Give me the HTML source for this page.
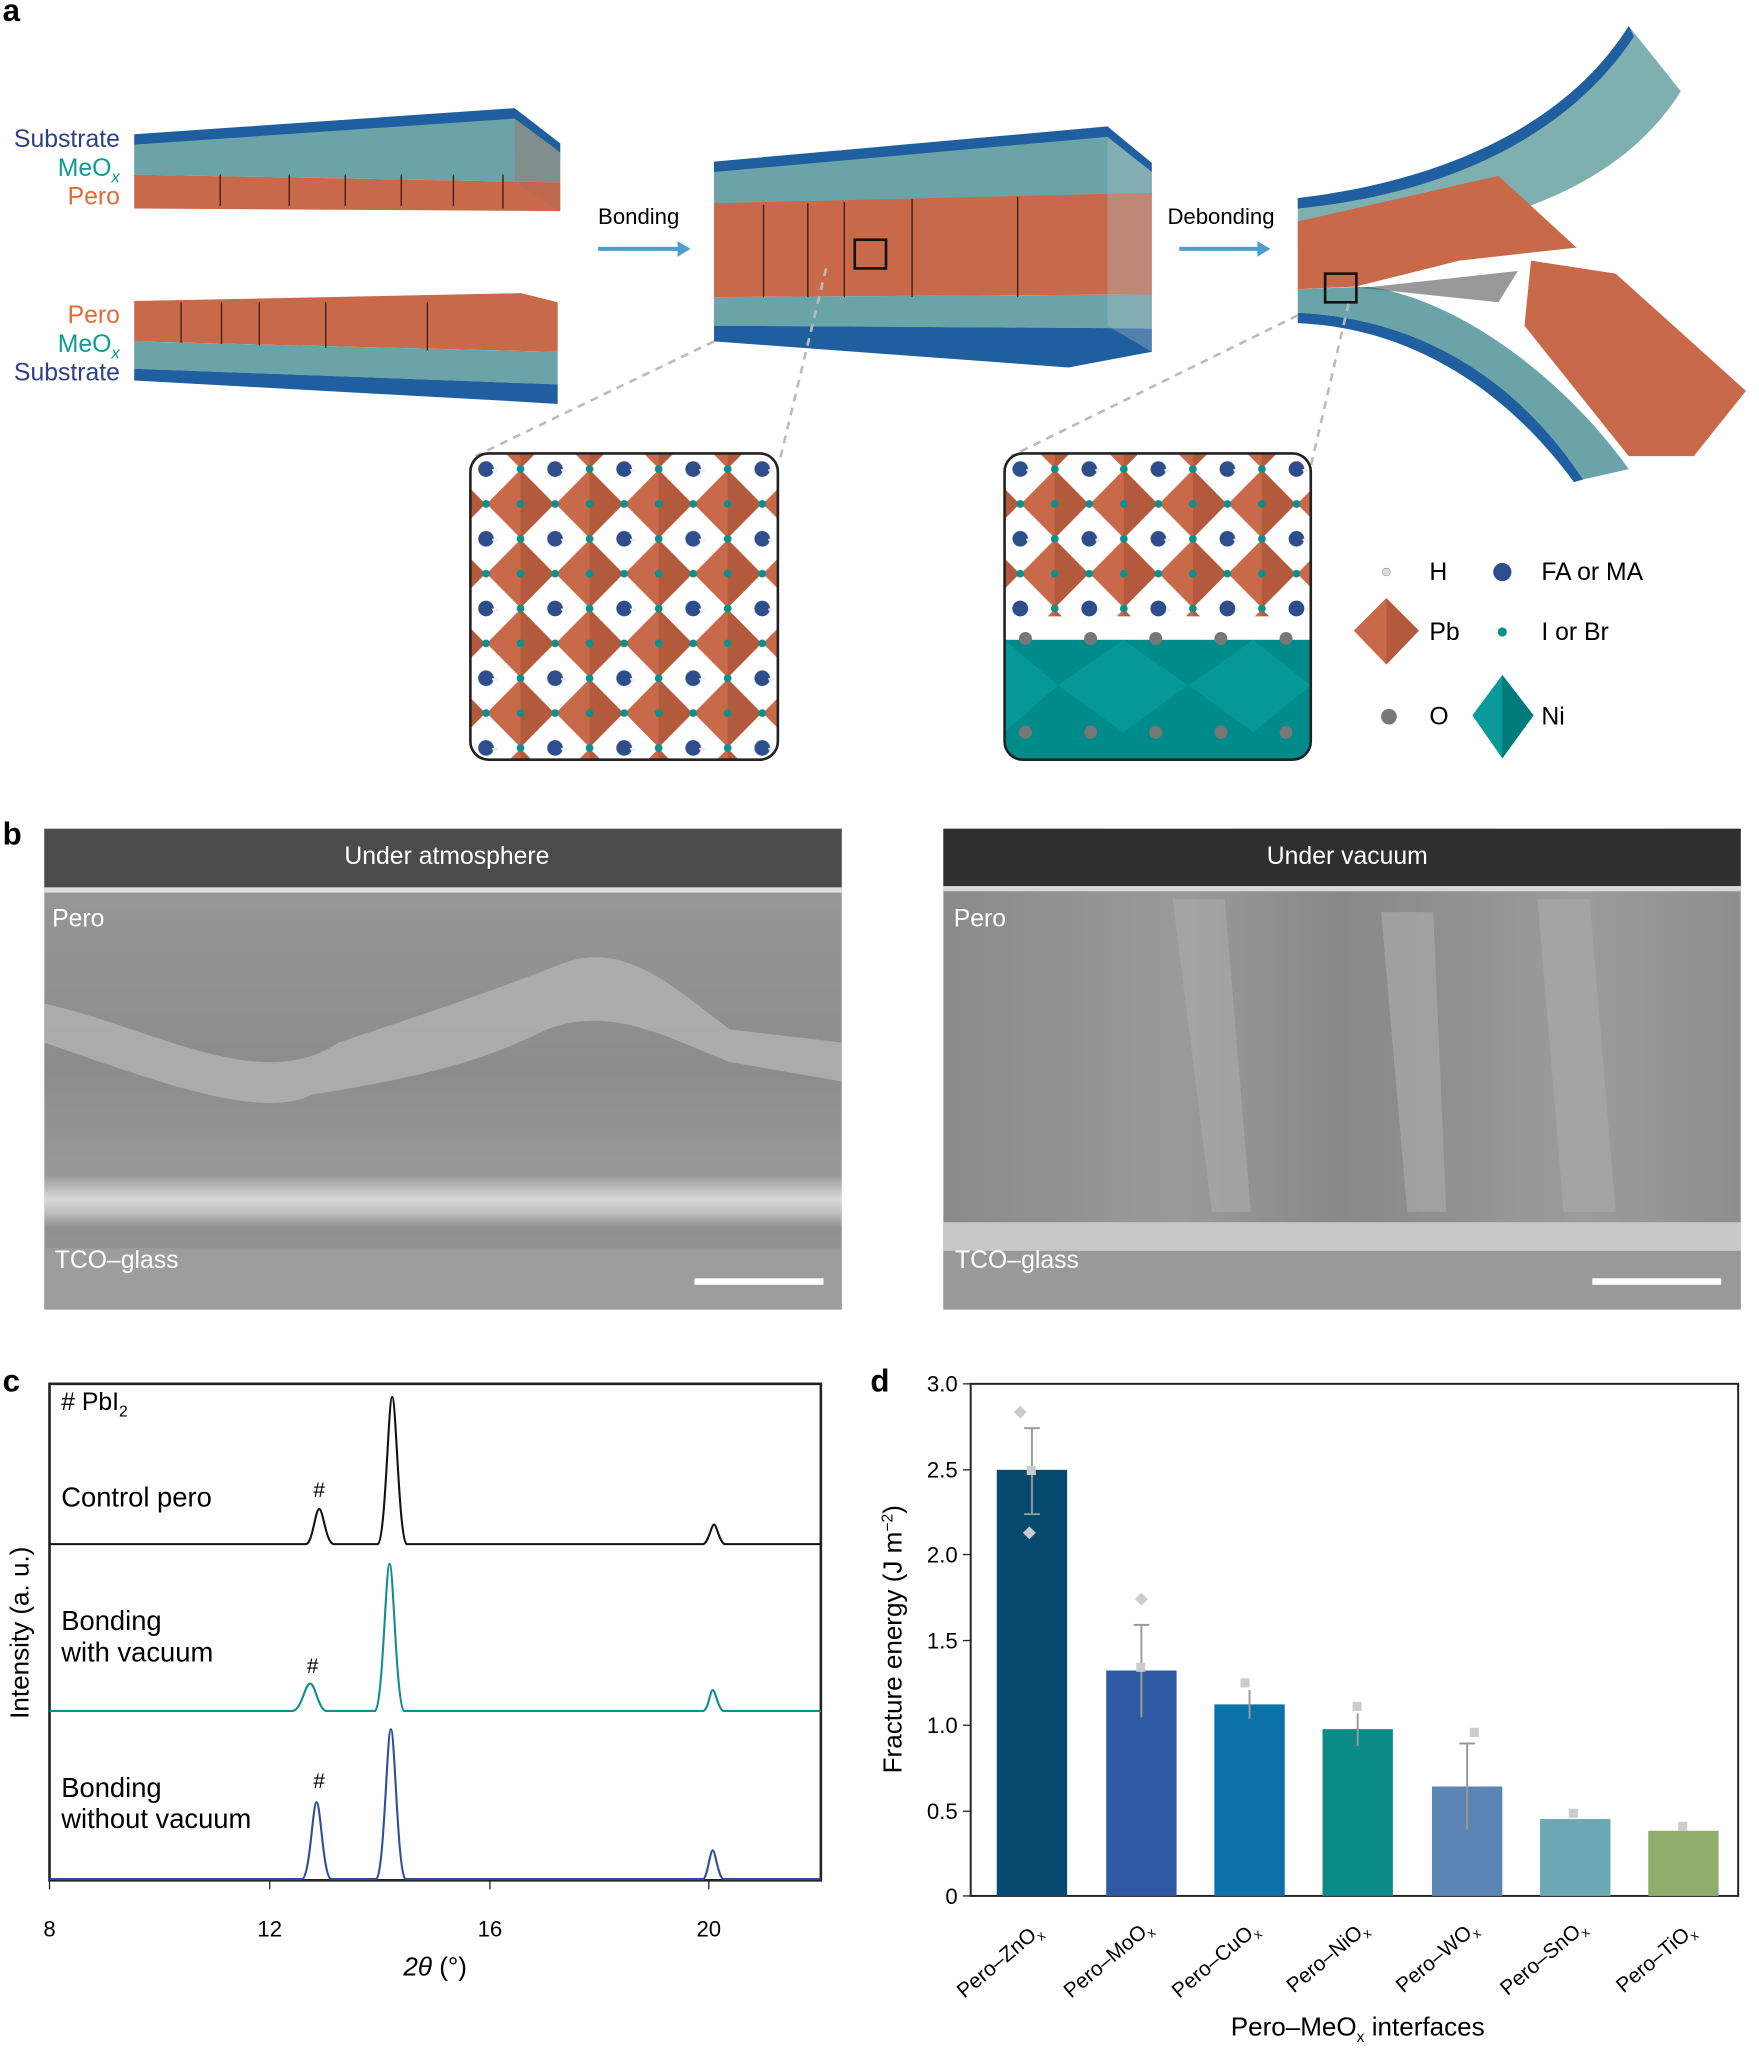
<!DOCTYPE html>
<html><head><meta charset="utf-8"><style>
html,body{margin:0;padding:0;background:#fff}
svg{display:block}
text{font-family:"Liberation Sans",sans-serif}
</style></head><body>
<svg width="1759" height="2051" viewBox="0 0 1350 1574" preserveAspectRatio="none" xmlns="http://www.w3.org/2000/svg">
<defs>
<pattern id="lat" x="373" y="360" width="53" height="53.5" patternUnits="userSpaceOnUse">
 <polygon points="26.5,0.5 52.5,26.75 26.5,53 0.5,26.75" fill="#c8694a"/>
 <polygon points="26.5,0.5 52.5,26.75 26.5,53" fill="#b35a3d"/>
 <circle cx="0" cy="0" r="6" fill="#2d4d8c"/><circle cx="53" cy="0" r="6" fill="#2d4d8c"/>
 <circle cx="0" cy="53.5" r="6" fill="#2d4d8c"/><circle cx="53" cy="53.5" r="6" fill="#2d4d8c"/>
 <circle cx="7" cy="0" r="2.5" fill="#eee"/>
 <circle cx="26.5" cy="0" r="3" fill="#0f8f8a"/><circle cx="26.5" cy="53.5" r="3" fill="#0f8f8a"/>
 <circle cx="0" cy="26.75" r="3" fill="#0f8f8a"/><circle cx="53" cy="26.75" r="3" fill="#0f8f8a"/>
 <circle cx="26.5" cy="26.75" r="3" fill="#0f8f8a"/>
</pattern>
<pattern id="lat2" x="783" y="360" width="53" height="53.5" patternUnits="userSpaceOnUse">
 <polygon points="26.5,0.5 52.5,26.75 26.5,53 0.5,26.75" fill="#c8694a"/>
 <polygon points="26.5,0.5 52.5,26.75 26.5,53" fill="#b35a3d"/>
 <circle cx="0" cy="0" r="6" fill="#2d4d8c"/><circle cx="53" cy="0" r="6" fill="#2d4d8c"/>
 <circle cx="0" cy="53.5" r="6" fill="#2d4d8c"/><circle cx="53" cy="53.5" r="6" fill="#2d4d8c"/>
 <circle cx="7" cy="0" r="2.5" fill="#eee"/>
 <circle cx="26.5" cy="0" r="3" fill="#0f8f8a"/><circle cx="26.5" cy="53.5" r="3" fill="#0f8f8a"/>
 <circle cx="0" cy="26.75" r="3" fill="#0f8f8a"/><circle cx="53" cy="26.75" r="3" fill="#0f8f8a"/>
 <circle cx="26.5" cy="26.75" r="3" fill="#0f8f8a"/>
</pattern>
<linearGradient id="semL" x1="0" y1="0" x2="0" y2="1">
 <stop offset="0" stop-color="#9a9a9a"/><stop offset="0.5" stop-color="#8c8c8c"/><stop offset="0.72" stop-color="#999"/><stop offset="0.77" stop-color="#d8d8d8"/><stop offset="0.8" stop-color="#bdbdbd"/><stop offset="0.83" stop-color="#8e8e8e"/><stop offset="1" stop-color="#a3a3a3"/>
</linearGradient>
<linearGradient id="semR" x1="0" y1="0" x2="1" y2="0">
 <stop offset="0" stop-color="#8a8a8a"/><stop offset="0.3" stop-color="#9a9a9a"/><stop offset="0.5" stop-color="#888"/><stop offset="0.8" stop-color="#9c9c9c"/><stop offset="1" stop-color="#8e8e8e"/>
</linearGradient>
</defs>

<text x="2" y="16" font-size="24" font-weight="bold">a</text>
<text x="2" y="648" font-size="24" font-weight="bold">b</text>
<text x="2" y="1068" font-size="24" font-weight="bold">c</text>
<text x="668" y="1068" font-size="24" font-weight="bold">d</text>

<!-- top-left slab -->
<polygon points="103,110 395,90 430,116 430,140 103,134" fill="#6aa4a8"/>
<polygon points="103,103 395,83 430,110 430,117 395,91 103,111" fill="#1f5fa0"/>
<polygon points="103,134 430,140 430,162 103,160" fill="#c8694a"/>
<polygon points="395,91 430,117 430,162 395,140" fill="#a86a58" opacity="0.35"/>
<text x="92" y="113" font-size="19" fill="#2e3f8c" text-anchor="end">Substrate</text>
<text x="92" y="135" font-size="19" fill="#0f9a92" text-anchor="end">MeO<tspan font-size="13" dy="5" font-style="italic">x</tspan></text>
<text x="92" y="157" font-size="19" fill="#e26b35" text-anchor="end">Pero</text>
<polygon points="103,231 400,225 428,232 428,270 103,262" fill="#c8694a"/>
<polygon points="103,262 428,270 428,295 103,283" fill="#6aa4a8"/>
<polygon points="103,283 428,295 428,310 395,308 103,292" fill="#1f5fa0"/>
<g stroke="#3a1a10" stroke-width="1"><line x1="139" y1="232" x2="139" y2="263"/><line x1="170" y1="232" x2="170" y2="264"/><line x1="199" y1="232" x2="199" y2="265"/><line x1="250" y1="232" x2="250" y2="267"/><line x1="328" y1="232" x2="328" y2="269"/>
<line x1="169" y1="134" x2="169" y2="158"/><line x1="222" y1="134" x2="222" y2="158"/><line x1="265" y1="134" x2="265" y2="158"/><line x1="308" y1="134" x2="308" y2="158"/><line x1="348" y1="134" x2="348" y2="158"/><line x1="386" y1="134" x2="386" y2="160"/></g>
<text x="92" y="248" font-size="19" fill="#e26b35" text-anchor="end">Pero</text>
<text x="92" y="270" font-size="19" fill="#0f9a92" text-anchor="end">MeO<tspan font-size="13" dy="5" font-style="italic">x</tspan></text>
<text x="92" y="292" font-size="19" fill="#2e3f8c" text-anchor="end">Substrate</text>

<text x="459" y="172" font-size="17">Bonding</text>
<line x1="459" y1="191" x2="522" y2="191" stroke="#4a9fd0" stroke-width="3"/><polygon points="530,191 520,185 520,197" fill="#4a9fd0"/>
<text x="896" y="172" font-size="17">Debonding</text>
<line x1="905" y1="191" x2="967" y2="191" stroke="#4a9fd0" stroke-width="3"/><polygon points="975,191 965,185 965,197" fill="#4a9fd0"/>

<!-- middle slab -->
<polygon points="548,131 850,104 884,131 884,150 548,158" fill="#6aa4a8"/>
<polygon points="548,124 850,97 884,125 884,132 850,105 548,132" fill="#1f5fa0"/>
<polygon points="548,156 884,148 884,226 548,228" fill="#c8694a"/>
<polygon points="548,228 884,226 884,252 548,250" fill="#6aa4a8"/>
<polygon points="548,250 884,252 884,270 820,282 548,262" fill="#1f5fa0"/>
<polygon points="850,105 884,132 884,270 850,250" fill="#b0c0c8" opacity="0.35"/>
<g stroke="#3a1a10" stroke-width="1"><line x1="586" y1="157" x2="586" y2="228"/><line x1="620" y1="156" x2="620" y2="228"/><line x1="700" y1="153" x2="700" y2="228"/><line x1="781" y1="151" x2="781" y2="228"/><line x1="648" y1="155" x2="648" y2="228"/></g>
<rect x="656" y="184" width="24" height="22" fill="none" stroke="#111" stroke-width="2"/>

<!-- debonded -->
<path d="M996,152 C1100,140 1200,100 1250,20 L1290,70 C1240,150 1140,175 1050,185 L996,190 Z" fill="#7fb0b0"/>
<path d="M996,152 C1100,140 1200,100 1250,20 L1254,28 C1200,110 1100,150 996,160Z" fill="#1f5fa0"/>
<path d="M996,170 L1150,135 L1210,190 L1120,200 L1040,220 L996,222 Z" fill="#c8694a"/>
<path d="M996,222 L1050,220 C1120,230 1200,290 1250,360 L1215,368 C1170,300 1100,245 996,240 Z" fill="#6aa4a8"/>
<path d="M996,240 C1100,245 1170,300 1215,368 L1208,370 C1160,305 1090,252 996,248Z" fill="#1f5fa0"/>
<path d="M1175,200 L1240,210 L1340,300 L1300,350 L1250,350 L1170,250 Z" fill="#c8694a"/>
<path d="M1045,221 L1165,208 L1150,232 Z" fill="#555" opacity="0.6"/>
<rect x="1017" y="210" width="24" height="22" fill="none" stroke="#111" stroke-width="2"/>

<g stroke="#bbb" stroke-width="2" stroke-dasharray="6,5" fill="none">
<line x1="548" y1="262" x2="365" y2="350"/><line x1="634" y1="206" x2="598" y2="355"/>
<line x1="996" y1="242" x2="776" y2="350"/><line x1="1035" y1="233" x2="1006" y2="358"/>
</g>

<rect x="361" y="348" width="236" height="235" rx="14" fill="url(#lat)" stroke="#222" stroke-width="2"/>
<clipPath id="c2"><rect x="771" y="348" width="235" height="235" rx="14"/></clipPath>
<g clip-path="url(#c2)">
<rect x="771" y="348" width="235" height="235" fill="url(#lat2)"/>
<rect x="771" y="473" width="235" height="20" fill="#fff"/>
<g fill="#2d4d8c"><circle cx="783" cy="467" r="6"/><circle cx="836" cy="467" r="6"/><circle cx="889" cy="467" r="6"/><circle cx="942" cy="467" r="6"/><circle cx="995" cy="467" r="6"/></g>
<rect x="771" y="491" width="235" height="95" fill="#008b8b"/>
<g fill="#777"><circle cx="787" cy="490" r="5"/><circle cx="837" cy="490" r="5"/><circle cx="887" cy="490" r="5"/><circle cx="937" cy="490" r="5"/><circle cx="987" cy="490" r="5"/>
<circle cx="787" cy="562" r="5"/><circle cx="837" cy="562" r="5"/><circle cx="887" cy="562" r="5"/><circle cx="937" cy="562" r="5"/><circle cx="987" cy="562" r="5"/></g>
<g fill="#0aa0a0" opacity="0.6"><polygon points="771,491 812,526 771,562"/><polygon points="862,491 912,526 862,562 812,526"/><polygon points="962,491 1006,526 962,562 912,526"/></g>
</g>
<rect x="771" y="348" width="235" height="235" rx="14" fill="none" stroke="#222" stroke-width="2"/>

<circle cx="1064" cy="439" r="3" fill="#ddd" stroke="#999" stroke-width="0.5"/><text x="1097" y="445" font-size="19">H</text>
<circle cx="1153" cy="439" r="7" fill="#2d4d8c"/><text x="1183" y="445" font-size="19">FA or MA</text>
<polygon points="1064,459 1089,484 1064,510 1039,484" fill="#c8694a"/><polygon points="1064,459 1089,484 1064,510" fill="#b35a3d"/><text x="1097" y="491" font-size="19">Pb</text>
<circle cx="1153" cy="485" r="3.5" fill="#0f8f8a"/><text x="1183" y="491" font-size="19">I or Br</text>
<circle cx="1066" cy="550" r="6" fill="#777"/><text x="1097" y="556" font-size="19">O</text>
<polygon points="1153,518 1177,549 1153,582 1130,549" fill="#0a9a9a"/><polygon points="1153,518 1177,549 1153,582" fill="#007a7a"/><text x="1183" y="556" font-size="19">Ni</text>

<!-- panel b -->
<rect x="34" y="636" width="612" height="369" fill="url(#semL)"/>
<rect x="34" y="636" width="612" height="45" fill="#4b4b4b"/>
<rect x="34" y="681" width="612" height="4" fill="#e0e0e0"/>
<path d="M34,770 C120,790 200,840 260,800 C320,780 380,760 430,740 C480,720 520,760 560,790 L646,800 L646,830 L560,815 C520,800 470,770 420,790 C360,820 300,830 240,840 C200,860 120,830 34,800Z" fill="#b8b8b8" opacity="0.7"/>
<rect x="34" y="958" width="612" height="47" fill="#9d9d9d"/>
<text x="343" y="663" font-size="19" fill="#fff" text-anchor="middle">Under atmosphere</text>
<text x="40" y="711" font-size="19" fill="#fff">Pero</text>
<text x="42" y="973" font-size="19" fill="#fff">TCO–glass</text>
<rect x="533" y="981" width="99" height="5" fill="#fff"/>

<rect x="724" y="636" width="612" height="369" fill="url(#semR)"/>
<rect x="724" y="636" width="612" height="44" fill="#2f2f2f"/>
<rect x="724" y="680" width="612" height="4" fill="#d8d8d8"/>
<rect x="724" y="938" width="612" height="22" fill="#c8c8c8"/>
<rect x="724" y="960" width="612" height="45" fill="#999"/>
<g fill="#a8a8a8" opacity="0.7"><polygon points="900,690 940,690 960,930 930,930"/><polygon points="1060,700 1100,700 1110,930 1080,930"/><polygon points="1180,690 1220,690 1240,930 1200,930"/></g>
<text x="1034" y="663" font-size="19" fill="#fff" text-anchor="middle">Under vacuum</text>
<text x="732" y="711" font-size="19" fill="#fff">Pero</text>
<text x="733" y="973" font-size="19" fill="#fff">TCO–glass</text>
<rect x="1222" y="981" width="99" height="5" fill="#fff"/>

<!-- panel c -->
<rect x="38" y="1062" width="592" height="381" fill="none" stroke="#222" stroke-width="2"/>
<g font-size="17" text-anchor="middle">
<line x1="38" y1="1443" x2="38" y2="1450" stroke="#222"/><text x="38" y="1486">8</text>
<line x1="207" y1="1443" x2="207" y2="1450" stroke="#222"/><text x="207" y="1486">12</text>
<line x1="376" y1="1443" x2="376" y2="1450" stroke="#222"/><text x="376" y="1486">16</text>
<line x1="544" y1="1443" x2="544" y2="1450" stroke="#222"/><text x="544" y="1486">20</text>
<text x="334" y="1516" font-size="20"><tspan font-style="italic">2θ</tspan> (°)</text>
</g>
<text transform="translate(22,1253) rotate(-90)" font-size="20" text-anchor="middle">Intensity (a. u.)</text>
<text x="47" y="1082" font-size="19"># PbI<tspan font-size="12" dy="5">2</tspan></text>
<text x="47" y="1156" font-size="21">Control pero</text>
<text x="47" y="1251" font-size="21">Bonding</text><text x="47" y="1275" font-size="21">with vacuum</text>
<text x="47" y="1379" font-size="21">Bonding</text><text x="47" y="1403" font-size="21">without vacuum</text>
<g font-size="16" text-anchor="middle"><text x="245" y="1149">#</text><text x="240" y="1284">#</text><text x="245" y="1372">#</text></g>
<path d="M38,1185 L235,1185 C240,1184 242,1158 245,1158 C248,1158 250,1184 256,1185 L290,1185 C296,1182 298,1072 301,1072 C304,1072 306,1180 312,1185 L540,1185 C544,1183 546,1170 548,1170 C550,1170 552,1183 556,1185 L630,1185" fill="none" stroke="#111" stroke-width="1.6"/>
<path d="M38,1313 L225,1313 C232,1311 234,1292 238,1292 C242,1292 244,1311 250,1313 L288,1313 C294,1308 296,1200 299,1200 C302,1200 304,1308 310,1313 L540,1313 C544,1311 545,1297 547,1297 C549,1297 551,1311 555,1313 L630,1313" fill="none" stroke="#0f8f8a" stroke-width="1.6"/>
<path d="M38,1442 L232,1442 C238,1440 240,1383 243,1383 C246,1383 248,1440 254,1442 L289,1442 C295,1436 297,1327 300,1327 C303,1327 305,1436 311,1442 L540,1442 C543,1440 545,1420 547,1420 C549,1420 551,1440 555,1442 L630,1442" fill="none" stroke="#2d4d9c" stroke-width="1.6"/>

<!-- panel d -->
<rect x="745" y="1062" width="589" height="393" fill="none" stroke="#222" stroke-width="1.5"/>
<g font-size="17" text-anchor="end">
<text x="735" y="1068">3.0</text><text x="735" y="1134">2.5</text><text x="735" y="1199">2.0</text><text x="735" y="1265">1.5</text><text x="735" y="1330">1.0</text><text x="735" y="1396">0.5</text><text x="735" y="1461">0</text>
</g>
<g stroke="#222"><line x1="739" y1="1062" x2="745" y2="1062"/><line x1="739" y1="1128" x2="745" y2="1128"/><line x1="739" y1="1193" x2="745" y2="1193"/><line x1="739" y1="1259" x2="745" y2="1259"/><line x1="739" y1="1324" x2="745" y2="1324"/><line x1="739" y1="1390" x2="745" y2="1390"/><line x1="739" y1="1455" x2="745" y2="1455"/></g>
<text transform="translate(692,1258) rotate(-90)" font-size="20" text-anchor="middle">Fracture energy (J m<tspan font-size="12" dy="-7">−2</tspan><tspan dy="7">)</tspan></text>
<rect x="765" y="1128" width="54" height="327" fill="#054a6e"/>
<rect x="849" y="1282" width="54" height="173" fill="#2e5aa5"/>
<rect x="932" y="1308" width="54" height="147" fill="#0a72a8"/>
<rect x="1015" y="1327" width="54" height="128" fill="#0b8a8a"/>
<rect x="1099" y="1371" width="54" height="84" fill="#5b84b4"/>
<rect x="1182" y="1396" width="54" height="59" fill="#6aa8b4"/>
<rect x="1265" y="1405" width="54" height="50" fill="#8fae6c"/>
<g stroke="#999" stroke-width="1.5"><line x1="792" y1="1096" x2="792" y2="1162"/><line x1="786" y1="1096" x2="798" y2="1096"/><line x1="786" y1="1162" x2="798" y2="1162"/>
<line x1="876" y1="1247" x2="876" y2="1318"/><line x1="870" y1="1247" x2="882" y2="1247"/>
<line x1="959" y1="1297" x2="959" y2="1319"/><line x1="1042" y1="1315" x2="1042" y2="1340"/>
<line x1="1126" y1="1338" x2="1126" y2="1404"/><line x1="1120" y1="1338" x2="1132" y2="1338"/></g>
<g fill="#ccc"><rect x="780" y="1080" width="7" height="7" transform="rotate(45 783 1083)"/><rect x="788" y="1125" width="7" height="7"/><rect x="786" y="1173" width="7" height="7" transform="rotate(45 790 1177)"/><rect x="872" y="1224" width="7" height="7" transform="rotate(45 876 1228)"/><rect x="872" y="1276" width="7" height="7"/><rect x="952" y="1288" width="7" height="7"/><rect x="1038" y="1306" width="7" height="7"/><rect x="1128" y="1326" width="7" height="7"/><rect x="1204" y="1388" width="7" height="7"/><rect x="1288" y="1398" width="7" height="7"/></g>
<g font-size="16">
<text transform="translate(740,1534) rotate(-40)">Pero–ZnO<tspan font-size="10" dy="4">x</tspan></text>
<text transform="translate(822,1534) rotate(-40)">Pero–MoO<tspan font-size="10" dy="4">x</tspan></text>
<text transform="translate(905,1534) rotate(-40)">Pero–CuO<tspan font-size="10" dy="4">x</tspan></text>
<text transform="translate(993,1530) rotate(-40)">Pero–NiO<tspan font-size="10" dy="4">x</tspan></text>
<text transform="translate(1077,1530) rotate(-40)">Pero–WO<tspan font-size="10" dy="4">x</tspan></text>
<text transform="translate(1157,1532) rotate(-40)">Pero–SnO<tspan font-size="10" dy="4">x</tspan></text>
<text transform="translate(1246,1530) rotate(-40)">Pero–TiO<tspan font-size="10" dy="4">x</tspan></text>
</g>
<text x="1042" y="1562" font-size="20" text-anchor="middle">Pero–MeO<tspan font-size="12" dy="5">x</tspan><tspan dy="-5"> interfaces</tspan></text>
</svg>
</body></html>
